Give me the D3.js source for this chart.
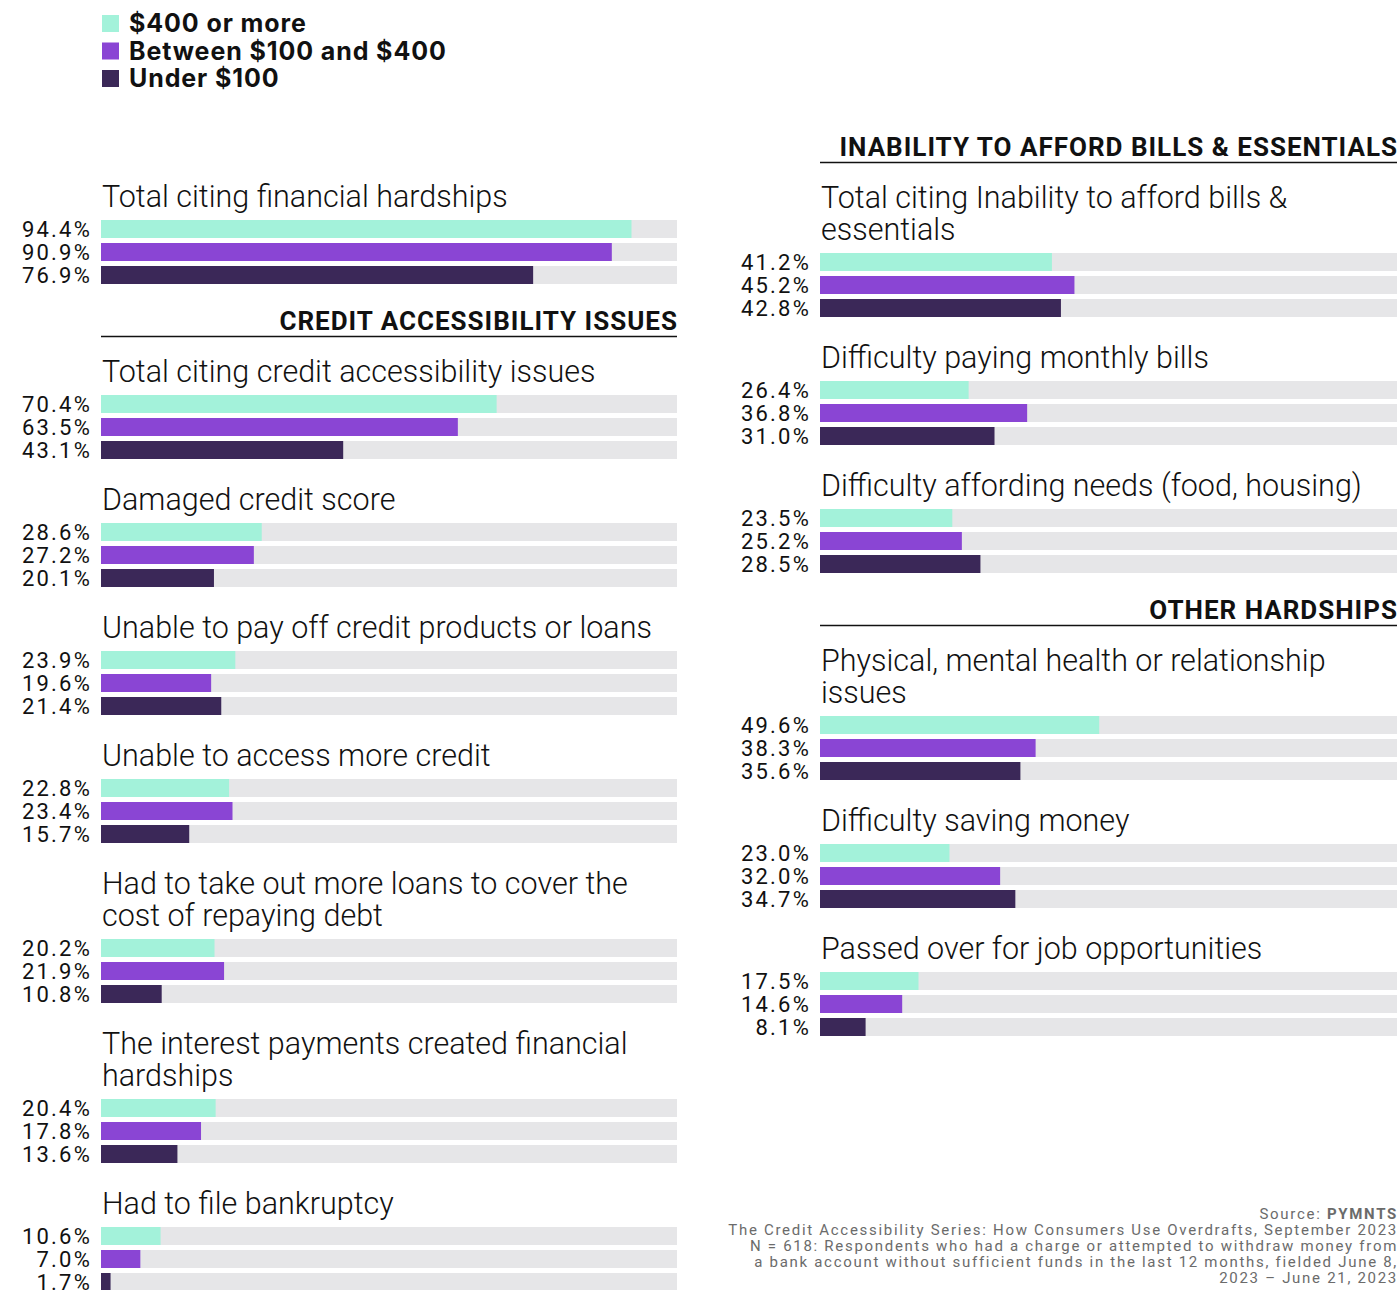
<!DOCTYPE html>
<html lang="en">
<head>
<meta charset="UTF-8">
<title>Financial hardships by overdraft amount</title>
<script src="https://d3js.org/d3.v7.min.js"></script>
<style>
  body { margin: 0; background: #fff; }
  svg text { font-family: Roboto, sans-serif; }
  .legend text { font-family: Inter, sans-serif; font-weight: 700; font-size: 25px; letter-spacing: 0.9px; fill: #111; }
  .title { font-weight: 300; font-size: 30.5px; fill: #111; }
  .header { font-weight: 700; font-size: 26px; letter-spacing: 1px; fill: #111; }
  .pct { font-size: 22px; letter-spacing: 2.2px; fill: #111; }
  .note { font-size: 15px; fill: #6b6b6b; letter-spacing: 1.7px; }
</style>
</head>
<body>
<div id="chart"></div>
<script>
// series (overdraft amount)
const series = ["$400 or more", "Between $100 and $400", "Under $100"];
const colors = ["#a3f2da", "#8a45d4", "#3b2858"];

// left column
const leftCategories = [
  ["Total citing financial hardships"],
  ["Total citing credit accessibility issues"],
  ["Damaged credit score"],
  ["Unable to pay off credit products or loans"],
  ["Unable to access more credit"],
  ["Had to take out more loans to cover the", "cost of repaying debt"],
  ["The interest payments created financial", "hardships"],
  ["Had to file bankruptcy"]
];
const leftHigh = [94.4, 70.4, 28.6, 23.9, 22.8, 20.2, 20.4, 10.6];
const leftMid  = [90.9, 63.5, 27.2, 19.6, 23.4, 21.9, 17.8, 7.0];
const leftLow  = [76.9, 43.1, 20.1, 21.4, 15.7, 10.8, 13.6, 1.7];
const leftHeaders = [{ before: 1, text: "CREDIT ACCESSIBILITY ISSUES" }];

// right column
const rightCategories = [
  ["Total citing Inability to afford bills &", "essentials"],
  ["Difficulty paying monthly bills"],
  ["Difficulty affording needs (food, housing)"],
  ["Physical, mental health or relationship", "issues"],
  ["Difficulty saving money"],
  ["Passed over for job opportunities"]
];
const rightHigh = [41.2, 26.4, 23.5, 49.6, 23.0, 17.5];
const rightMid  = [45.2, 36.8, 25.2, 38.3, 32.0, 14.6];
const rightLow  = [42.8, 31.0, 28.5, 35.6, 34.7, 8.1];
const rightHeaders = [
  { before: 0, text: "INABILITY TO AFFORD BILLS & ESSENTIALS" },
  { before: 3, text: "OTHER HARDSHIPS" }
];

const noteLines = [
  "The Credit Accessibility Series: How Consumers Use Overdrafts, September 2023",
  "N = 618: Respondents who had a charge or attempted to withdraw money from",
  "a bank account without sufficient funds in the last 12 months, fielded June 8,",
  "2023 \u2013 June 21, 2023"
];

const W = 1398, H = 1290;
const svg = d3.select("#chart").append("svg")
  .attr("width", W).attr("height", H);

// legend
const legend = svg.append("g").attr("class", "legend");
series.forEach((s, i) => {
  const g = legend.append("g").attr("transform", `translate(102, ${15 + i * 27.5})`);
  g.append("rect").attr("width", 17).attr("height", 17).attr("fill", colors[i]);
  g.append("text").attr("x", 27).attr("y", 17).text(s);
});

// bars within a group
const band = d3.scaleBand().domain(series).range([0, 64]).paddingInner(5 / 23);

function drawColumn(x0, x1, startY, cats, high, mid, low, headers) {
  const x = d3.scaleLinear().domain([0, 102.5]).range([x0, x1]);
  const col = svg.append("g");
  let y = startY;
  cats.forEach((lines, i) => {
    const h = headers.find(d => d.before === i);
    if (h) {
      const base = i === 0 ? y : y - 5;
      col.append("text").attr("class", "header")
        .attr("x", x1 + 1).attr("y", base).attr("text-anchor", "end").text(h.text);
      col.append("line").attr("x1", x0).attr("x2", x1)
        .attr("y1", base + 6.5).attr("y2", base + 6.5)
        .attr("stroke", "#111").attr("stroke-width", 1.5);
      y = base + 52;
    }
    lines.forEach((t, j) => {
      col.append("text").attr("class", "title")
        .attr("x", x0 + 1).attr("y", y + j * 32).text(t);
    });
    const top = y + (lines.length - 1) * 32 + 13;
    const vals = [high[i], mid[i], low[i]];
    const g = col.append("g").attr("transform", `translate(0, ${top})`);
    g.selectAll("rect.track").data(series).join("rect")
      .attr("class", "track")
      .attr("x", x0).attr("y", d => band(d))
      .attr("width", x1 - x0).attr("height", band.bandwidth())
      .attr("fill", "#e6e6e8");
    g.selectAll("rect.val").data(series).join("rect")
      .attr("class", "val")
      .attr("x", x0).attr("y", d => band(d))
      .attr("width", (d, k) => x(vals[k]) - x0).attr("height", band.bandwidth())
      .attr("fill", (d, k) => colors[k]);
    g.selectAll("text.pct").data(series).join("text")
      .attr("class", "pct")
      .attr("x", x0 - 9).attr("y", d => band(d) + 17)
      .attr("text-anchor", "end")
      .text((d, k) => vals[k].toFixed(1) + "%");
    y = top + 115;
  });
}

drawColumn(101, 677, 207, leftCategories, leftHigh, leftMid, leftLow, leftHeaders);
drawColumn(820, 1397, 156, rightCategories, rightHigh, rightMid, rightLow, rightHeaders);

// source note
const note = svg.append("g").attr("class", "note");
const src = note.append("text").attr("x", 1398).attr("y", 1219).attr("text-anchor", "end");
src.append("tspan").text("Source: ");
src.append("tspan").attr("font-weight", 700).text("PYMNTS");
noteLines.forEach((t, i) => {
  note.append("text").attr("x", 1398).attr("y", 1235 + i * 16)
    .attr("text-anchor", "end").text(t);
});
</script>
</body>
</html>
